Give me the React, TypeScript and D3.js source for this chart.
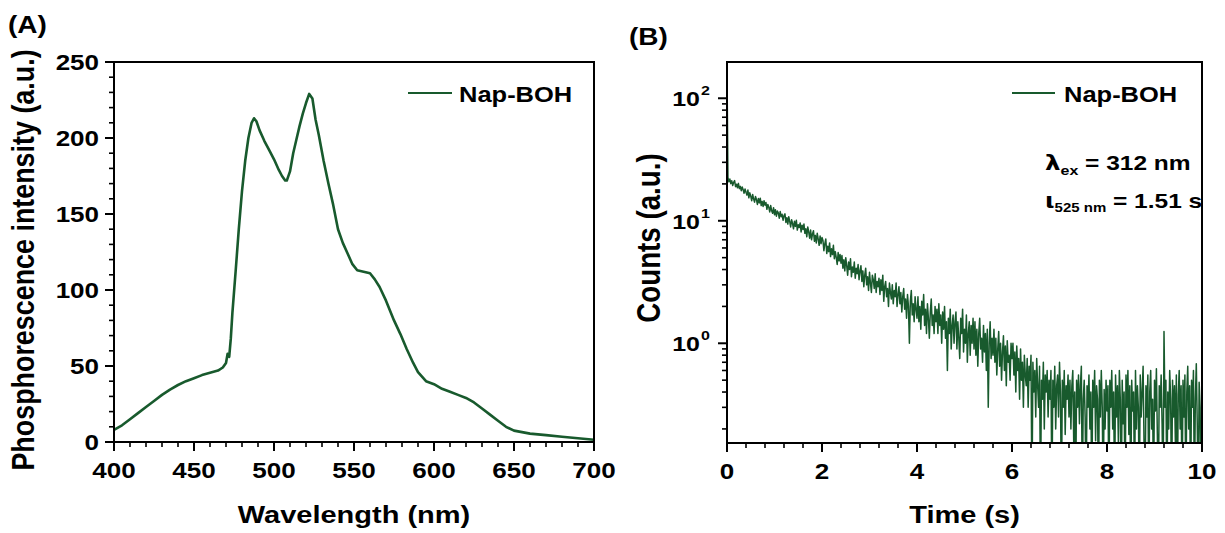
import React from "react";
import * as d3 from "d3";

// ---------- Panel A data (phosphorescence spectrum) ----------
const SPEC_WL = [400, 405, 410, 415, 420, 425, 430, 435, 440, 445, 450, 455, 460, 465, 468, 470, 471, 472, 473, 474, 476, 478, 480, 482, 484, 486, 487.5, 489, 491, 494, 497, 500, 503, 505, 507, 508, 510, 512, 514, 516, 518, 520, 522, 524, 526, 528, 531, 534, 537, 540, 543, 546, 549, 552, 556, 560, 563, 566, 570, 575, 579, 583, 587, 590, 595, 600, 605, 610, 615, 620, 625, 630, 635, 640, 645, 650, 655, 660, 670, 680, 690, 700];
const SPEC_I = [8, 11, 15, 19, 23, 27, 31, 34.5, 37.5, 40, 42, 44, 45.5, 47, 49, 52, 58, 56, 68, 85, 112, 140, 165, 185, 200, 210, 213, 211, 205, 198, 192, 186, 179, 175, 172, 172, 178, 190, 199, 208, 216, 223, 229, 226, 212, 202, 185, 170, 156, 140, 131, 124, 117, 113, 112, 111, 107, 102, 93, 80, 71, 61, 52, 46, 40, 38, 35, 33, 31, 29, 26, 22, 18, 14, 10, 7.5, 6.5, 5.5, 4.5, 3.5, 2.5, 1.5];
const A_X_TICKS = [400, 450, 500, 550, 600, 650, 700];
const A_Y_TICKS = [0, 50, 100, 150, 200, 250];

// ---------- Panel B data (decay, one value every 0.02 s) ----------
const DECAY_START = 0;
const DECAY_STEP = 0.02;
const DECAY_COUNTS = [165,
  22.6, 20.8, 21.9, 20.1, 21.2, 19.4, 20.6, 21.3, 19.0, 19.9, 18.6, 20.2, 18.3, 19.1, 17.6, 18.9, 17.9, 16.8, 18.2, 17.1,
  16.2, 17.8, 15.4, 16.9, 15.9, 14.6, 16.4, 15.1, 14.2, 15.8, 14.9, 13.6, 15.2, 14.0, 15.3, 13.3, 14.4, 13.1, 14.6, 13.4,
  14.1, 12.4, 13.6, 12.9, 11.8, 13.3, 12.1, 11.5, 12.8, 11.2, 12.3, 10.9, 12.0, 11.6, 10.5, 11.9, 10.8, 11.3, 10.1, 11.0,
  11.4, 9.7, 10.6, 9.4, 10.8, 9.9, 8.9, 10.2, 9.5, 8.6, 9.9, 9.0, 10.1, 8.4, 9.3, 8.8, 9.6, 8.1, 9.2, 8.5,
  9.4, 7.9, 8.6, 7.4, 8.9, 8.1, 7.2, 8.4, 7.0, 7.8, 8.3, 6.8, 7.6, 6.6, 7.9, 7.1, 6.3, 7.5, 6.5, 7.3,
  6.9, 5.7, 6.5, 7.1, 5.4, 6.2, 5.6, 6.6, 5.1, 5.9, 5.3, 6.3, 4.9, 5.6, 5.0, 4.4, 5.5, 4.7, 5.3, 4.5,
  5.2, 4.1, 4.8, 3.9, 5.0, 4.3, 3.6, 4.6, 4.0, 4.9, 3.5, 4.2, 3.8, 4.6, 3.4, 4.1, 3.7, 4.4, 3.3, 3.9,
  4.3, 3.2, 3.9, 2.9, 3.6, 4.1, 3.0, 3.5, 2.7, 3.8, 3.1, 2.6, 3.6, 3.3, 2.8, 3.7, 2.6, 3.2, 2.9, 3.4,
  2.5, 3.3, 2.7, 3.6, 2.2, 2.9, 3.2, 2.4, 2.8, 2.0, 3.1, 2.6, 2.3, 3.0, 2.1, 2.7, 2.4, 3.1, 2.0, 2.5,
  2.9, 2.1, 2.6, 1.8, 2.4, 2.8, 1.9, 2.3, 1.6, 2.5, 2.0, 1.0, 2.2, 2.7, 1.7, 2.1, 1.5, 2.4, 1.9, 1.6,
  2.4, 1.5, 2.0, 1.3, 2.2, 1.7, 2.5, 1.4, 1.9, 1.2, 2.1, 1.6, 1.1, 1.8, 2.3, 1.4, 1.7, 1.2, 2.0, 1.5,
  1.9, 1.2, 2.1, 1.4, 1.7, 1.0, 1.8, 1.3, 2.0, 1.1, 1.5, 0.6, 1.6, 1.2, 1.9, 0.9, 1.4, 1.7, 1.0, 1.5,
  1.8, 0.9, 1.5, 1.1, 0.75, 1.6, 1.2, 1.9, 0.85, 1.3, 1.0, 1.7, 0.7, 1.2, 1.5, 0.8, 1.4, 1.0, 1.6, 0.9,
  1.5, 0.8, 1.3, 0.65, 1.2, 1.6, 0.9, 1.1, 0.7, 1.4, 0.85, 1.2, 0.6, 1.3, 0.3, 1.0, 1.5, 0.75, 1.1, 0.8,
  1.3, 0.7, 1.1, 0.55, 0.9, 1.25, 0.65, 1.0, 0.5, 0.85, 1.15, 0.6, 0.95, 0.45, 1.05, 0.7, 0.8, 0.5, 1.0, 0.75,
  1.0, 0.55, 0.85, 0.4, 0.95, 0.6, 0.75, 0.35, 0.9, 0.5, 0.7, 0.3, 0.8, 0.55, 0.45, 0.75, 0.3, 0.65, 0.5, 0.8,
  0.05, 0.7, 0.4, 0.6, 0.25, 0.75, 0.45, 0.3, 0.65, 0.05, 0.5, 0.35, 0.7, 0.2, 0.55, 0.4, 0.6, 0.25, 0.5, 0.35,
  0.6, 0.05, 0.5, 0.3, 0.65, 0.2, 0.45, 0.55, 0.25, 0.7, 0.4, 0.05, 0.5, 0.3, 0.6, 0.18, 0.45, 0.35, 0.55, 0.25,
  0.5, 0.2, 0.45, 0.6, 0.15, 0.4, 0.05, 0.5, 0.3, 0.55, 0.22, 0.45, 0.65, 0.05, 0.35, 0.5, 0.25, 0.05, 0.45, 0.3,
  0.55, 0.2, 0.4, 0.05, 0.5, 0.3, 0.6, 0.16, 0.45, 0.35, 0.05, 0.5, 0.25, 0.6, 0.3, 0.05, 0.42, 0.2, 0.5, 0.28,
  0.45, 0.05, 0.5, 0.3, 0.6, 0.2, 0.4, 0.05, 0.55, 0.25, 0.45, 0.15, 0.6, 0.35, 0.05, 0.5, 0.22, 0.4, 0.05, 0.55,
  0.3, 0.6, 0.18, 0.45, 0.05, 0.5, 0.28, 0.4, 0.05, 0.6, 0.2, 0.45, 0.3, 0.05, 0.55, 0.25, 0.4, 0.65, 0.15, 0.05,
  0.45, 0.25, 0.55, 0.05, 0.4, 0.6, 0.2, 0.35, 0.05, 0.5, 0.28, 0.62, 0.18, 0.05, 0.45, 0.3, 0.55, 0.22, 0.05, 1.25,
  0.3, 0.5, 0.05, 0.4, 0.2, 0.6, 0.35, 0.05, 0.5, 0.25, 0.45, 0.15, 0.55, 0.05, 0.38, 0.6, 0.2, 0.45, 0.05, 0.5,
  0.25, 0.55, 0.05, 0.4, 0.65, 0.2, 0.45, 0.05, 0.5, 0.3, 0.6, 0.05, 0.35, 0.68, 0.22, 0.05, 0.48, 0.3, 0.05, 0.4];
const B_X_TICKS = [0, 2, 4, 6, 8, 10];
const B_Y_DECADES = [0, 1, 2];

const SERIES_NAME = "Nap-BOH";
const GREEN = "#185a2d";
const FONT = "'Liberation Sans', Arial, Helvetica, sans-serif";
const GREEK_FONT = "'DejaVu Sans', 'Liberation Sans', sans-serif";
const SY = 0.84; // vertical squish of the original figure

function T({ x, y, size, anchor = "start", rotate = false, children }: any) {
  const tr = rotate
    ? `translate(${x},${y}) scale(1,${SY}) rotate(-90)`
    : `translate(${x},${y}) scale(1,${SY})`;
  return (
    <text transform={tr} fontSize={size} fontWeight="bold" fontFamily={FONT} textAnchor={anchor} fill="#000">
      {children}
    </text>
  );
}

export default function App() {
  // Panel A scales
  const ax = d3.scaleLinear().domain([400, 700]).range([114, 594]);
  const ay = d3.scaleLinear().domain([0, 250]).range([442, 62]);
  const specData = SPEC_WL.map((w, i) => [w, SPEC_I[i]] as [number, number]);
  const specLine = d3.line<[number, number]>().x((d) => ax(d[0])).y((d) => ay(d[1]));

  const aMinorX = d3.range(400, 701, 10).filter((v) => v % 50 !== 0);
  const aMinorY = d3.range(0, 251, 10).filter((v) => v % 50 !== 0);

  // Panel B scales
  const bx = d3.scaleLinear().domain([0, 10]).range([727, 1202]);
  const by = d3.scaleLog().domain([0.1535, 197.7]).range([443, 62]);
  const decayData = DECAY_COUNTS.map((c, i) => [DECAY_START + i * DECAY_STEP, c] as [number, number]);
  const decayLine = d3.line<[number, number]>().x((d) => bx(d[0])).y((d) => by(d[1]));
  const bMinorX = d3.range(0, 10.001, 0.4).filter((v) => Math.abs(v / 2 - Math.round(v / 2)) > 1e-6);
  const bMinorY: number[] = [];
  [-1, 0, 1, 2].forEach((k) => {
    for (let m = 2; m <= 9; m++) {
      const v = m * Math.pow(10, k);
      if (v > 0.1535 && v < 197.7) bMinorY.push(v);
    }
  });

  const axisStroke = { stroke: "#000", strokeWidth: 2, fill: "none" };

  return (
    <svg width={1225} height={533} style={{ position: "absolute", left: 0, top: 0, background: "#fff" }}>
      <defs>
        <clipPath id="clipB">
          <rect x={727} y={62} width={475} height={381} />
        </clipPath>
      </defs>

      {/* ===== Panel A ===== */}
      <T x={8} y={33} size={28}>(A)</T>
      <path d={specLine(specData) || ""} stroke={GREEN} strokeWidth={2.6} fill="none" strokeLinejoin="round" />
      <rect x={114} y={62} width={480} height={380} {...axisStroke} />
      {A_X_TICKS.map((v) => (
        <g key={"axt" + v}>
          <line x1={ax(v)} x2={ax(v)} y1={442} y2={451} stroke="#000" strokeWidth={2} />
          <T x={ax(v)} y={478} size={26} anchor="middle">{v}</T>
        </g>
      ))}
      {aMinorX.map((v) => (
        <line key={"axm" + v} x1={ax(v)} x2={ax(v)} y1={442} y2={447} stroke="#000" strokeWidth={1.6} />
      ))}
      {A_Y_TICKS.map((v) => (
        <g key={"ayt" + v}>
          <line x1={105} x2={114} y1={ay(v)} y2={ay(v)} stroke="#000" strokeWidth={2} />
          <T x={99} y={ay(v) + 8} size={26} anchor="end">{v}</T>
        </g>
      ))}
      {aMinorY.map((v) => (
        <line key={"aym" + v} x1={109} x2={114} y1={ay(v)} y2={ay(v)} stroke="#000" strokeWidth={1.6} />
      ))}
      <T x={354} y={523} size={29} anchor="middle">Wavelength (nm)</T>
      <T x={34} y={260} size={32} anchor="middle" rotate>Phosphorescence intensity (a.u.)</T>
      {/* legend A */}
      <line x1={408} x2={452} y1={93} y2={93} stroke={GREEN} strokeWidth={2} />
      <T x={459} y={102} size={25.5}>{SERIES_NAME}</T>

      {/* ===== Panel B ===== */}
      <T x={629} y={45} size={28}>(B)</T>
      <g clipPath="url(#clipB)">
        <path d={decayLine(decayData) || ""} stroke={GREEN} strokeWidth={1.5} fill="none" strokeLinejoin="round" />
      </g>
      <rect x={727} y={62} width={475} height={381} {...axisStroke} />
      {B_X_TICKS.map((v) => (
        <g key={"bxt" + v}>
          <line x1={bx(v)} x2={bx(v)} y1={443} y2={452} stroke="#000" strokeWidth={2} />
          <T x={bx(v)} y={479} size={26} anchor="middle">{v}</T>
        </g>
      ))}
      {bMinorX.map((v) => (
        <line key={"bxm" + v} x1={bx(v)} x2={bx(v)} y1={443} y2={448} stroke="#000" strokeWidth={1.6} />
      ))}
      {B_Y_DECADES.map((k) => {
        const yv = by(Math.pow(10, k));
        return (
          <g key={"byt" + k}>
            <line x1={718} x2={727} y1={yv} y2={yv} stroke="#000" strokeWidth={2} />
            <T x={700} y={yv + 8} size={25} anchor="end">10</T>
            <T x={701} y={yv - 3} size={16}>{k}</T>
          </g>
        );
      })}
      {bMinorY.map((v) => (
        <line key={"bym" + v} x1={722} x2={727} y1={by(v)} y2={by(v)} stroke="#000" strokeWidth={1.6} />
      ))}
      <T x={964.5} y={523} size={29} anchor="middle">Time (s)</T>
      <T x={660} y={238} size={33} anchor="middle" rotate>Counts (a.u.)</T>
      {/* legend B */}
      <line x1={1012} x2={1055} y1={93} y2={93} stroke={GREEN} strokeWidth={2} />
      <T x={1064} y={102} size={25.5}>{SERIES_NAME}</T>
      {/* annotations */}
      <text transform={`translate(1045,170) scale(1,${SY})`} fontFamily={FONT} fontWeight="bold" fontSize={24.5} fill="#000">
        <tspan fontFamily={GREEK_FONT} fontWeight="bold">λ</tspan><tspan fontSize={16} dy={6}>ex</tspan><tspan dy={-6}> = 312 nm</tspan>
      </text>
      <text transform={`translate(1045,208) scale(1,${SY})`} fontFamily={FONT} fontWeight="bold" fontSize={24.5} fill="#000">
        <tspan fontFamily={GREEK_FONT} fontWeight="bold">ι</tspan><tspan fontSize={15} dy={5}>525 nm</tspan><tspan dy={-5}> = 1.51 s</tspan>
      </text>
    </svg>
  );
}
